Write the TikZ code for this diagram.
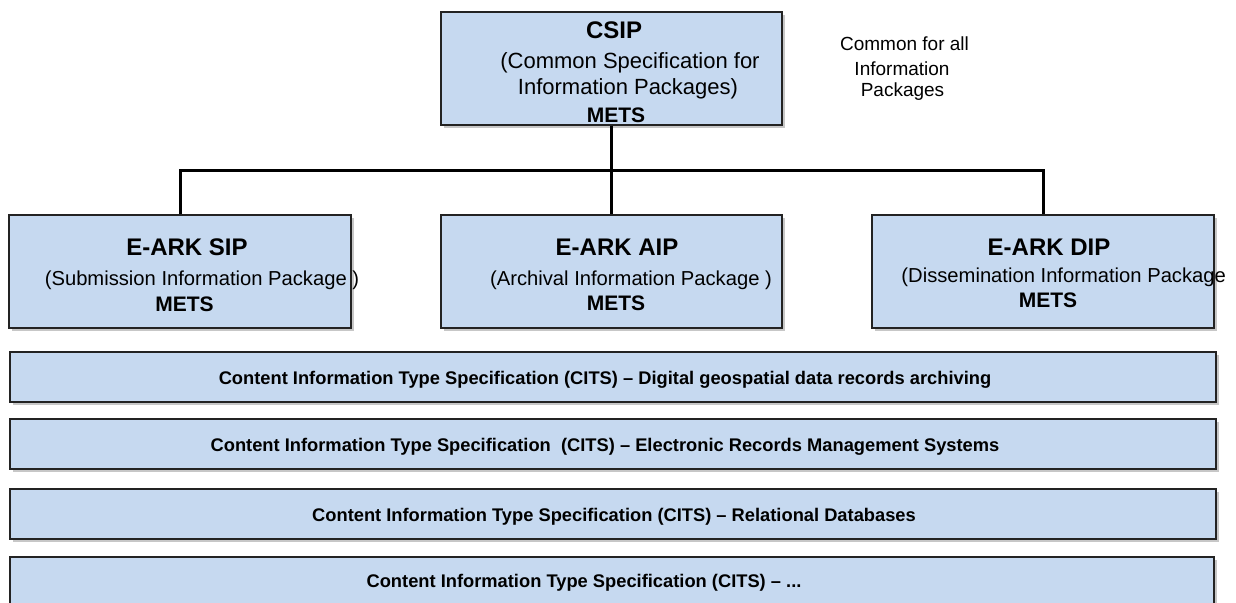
\documentclass[tikz,border=0pt]{standalone}
\usepackage{fontspec}
\setmainfont{Liberation Sans}
\usetikzlibrary{shadows}
\definecolor{boxfill}{RGB}{198,217,240}
\definecolor{boxline}{RGB}{35,35,35}
\tikzset{
  box/.style={draw=boxline, line width=1.4pt, fill=boxfill, inner sep=0pt,
    drop shadow={shadow xshift=2.5pt, shadow yshift=-3pt, fill=black, opacity=0.22}},
  pkgbox/.style={box, minimum width=342pt, minimum height=113pt},
  barbox/.style={box, minimum width=1206pt, minimum height=50pt},
  lbl/.style={anchor=base, inner sep=0pt, text=black},
  headfont/.style={font=\fontsize{24}{28}\selectfont\bfseries},
  subfont/.style={font=\fontsize{20.2}{26}\selectfont},
  csipfont/.style={font=\fontsize{22}{26}\selectfont},
  metsfont/.style={font=\fontsize{21}{26}\selectfont\bfseries},
  notefont/.style={font=\fontsize{19}{23}\selectfont},
  barfont/.style={font=\fontsize{18.3}{22}\selectfont\bfseries},
  conn/.style={line width=3pt, draw=black}
}
\begin{document}
\begin{tikzpicture}[x=1pt,y=-1pt]
\useasboundingbox (0,0) rectangle (1236,602);
\clip (0,0) rectangle (1236,602);

% boxes
\node[pkgbox, minimum width=341pt] (csip) at (611.5,68.5) {};
\node[pkgbox] (sip) at (180,271.5) {};
\node[pkgbox, minimum width=341pt] (aip) at (611.5,271.5) {};
\node[pkgbox] (dip) at (1043,271.5) {};

\node[barbox] (bar1) at (613,377) {};
\node[barbox] (bar2) at (613,444) {};
\node[barbox] (bar3) at (613,514) {};
\node[barbox, minimum width=1204pt] (bar4) at (612,582) {};

% connectors
\coordinate (bus) at (611.5,170);
\draw[conn] (csip.south) -- (aip.north);
\draw[conn] (sip.north) |- (bus) -| (dip.north);

% CSIP texts
\node[lbl, headfont] (csipT1) at (614,39) {CSIP};
\node[lbl, csipfont] (csipT2) at (630,69) {(Common Specification for};
\node[lbl, csipfont] (csipT3) at (628,94) {Information Packages)};
\node[lbl, metsfont] (csipT4) at (616,122) {METS};

% note
\node[lbl, notefont] (note1) at (904.5,51) {Common for all};
\node[lbl, notefont] (note2) at (902,75) {Information};
\node[lbl, notefont] (note3) at (902.5,96) {Packages};

% SIP
\node[lbl, headfont] (sipT1) at (187,255) {E-ARK SIP};
\node[lbl, subfont] (sipT2) at (202,285) {(Submission Information Package )};
\node[lbl, metsfont] (sipT3) at (184.5,311) {METS};

% AIP
\node[lbl, headfont] (aipT1) at (617,255) {E-ARK AIP};
\node[lbl, subfont] (aipT2) at (631,285) {(Archival Information Package )};
\node[lbl, metsfont] (aipT3) at (616,310) {METS};

% DIP
\node[lbl, headfont] (dipT1) at (1049,255) {E-ARK DIP};
\node[lbl, subfont] (dipT2) at (1063.7,282) {(Dissemination Information Package};
\node[lbl, metsfont] (dipT3) at (1048,307) {METS};

% bars
\node[lbl, barfont] (bar1T) at (605,384) {Content Information Type Specification (CITS) – Digital geospatial data records archiving};
\node[lbl, barfont] (bar2T) at (605,451) {Content Information Type Specification \ (CITS) – Electronic Records Management Systems};
\node[lbl, barfont] (bar3T) at (614,521) {Content Information Type Specification (CITS) – Relational Databases};
\node[lbl, barfont] (bar4T) at (584,587) {Content Information Type Specification (CITS) – ...};
\end{tikzpicture}
\end{document}
